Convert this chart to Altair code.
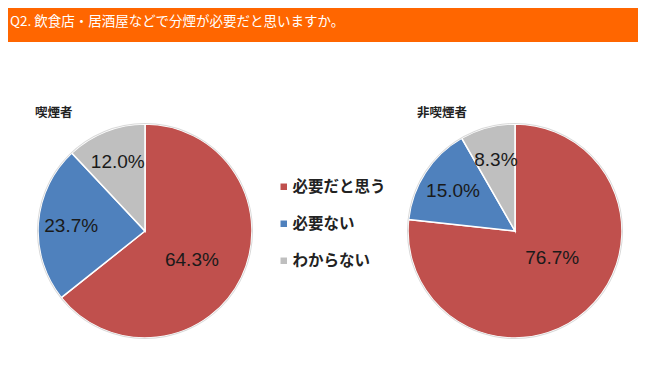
import altair as alt
import pandas as pd

title_text = "Q2. 飲食店・居酒屋などで分煙が必要だと思いますか。"
categories = ["必要だと思う", "必要ない", "わからない"]
groups = ["喫煙者", "非喫煙者"]
smokers = [64.3, 23.7, 12.0]
nonsmokers = [76.7, 15.0, 8.3]
colors = ["#C0504D", "#4F81BD", "#BFBFBF"]

rows = []
for g, vals in zip(groups, [smokers, nonsmokers]):
    for i, (c, v) in enumerate(zip(categories, vals)):
        rows.append({"group": g, "category": c, "value": v, "order": i,
                     "label": f"{v:.1f}%"})
df = pd.DataFrame(rows)

W, H = 630, 345
R = 107
centers = {"喫煙者": (137, 223), "非喫煙者": (507, 223)}
title_pos = {"喫煙者": (27, 105), "非喫煙者": (409, 105)}
big_label = {"喫煙者": (55, 0.1), "非喫煙者": (46, -0.21)}

theta_scale = alt.Scale(domain=[0, 100])
color_enc = alt.Color(
    "category:N",
    scale=alt.Scale(domain=categories, range=colors),
    legend=alt.Legend(
        orient="none", legendX=268, legendY=171, title=None,
        symbolType="square", symbolSize=42, symbolStrokeWidth=0,
        labelFontSize=15.5, labelFont="Noto Sans CJK JP",
        labelFontWeight="bold", labelColor="#222222",
        rowPadding=20, labelOffset=1,
    ),
)

layers = []

header = alt.Chart(pd.DataFrame({"t": [title_text]})).mark_rect(
    color="#FF6600"
).encode(x=alt.value(0), x2=alt.value(W), y=alt.value(0), y2=alt.value(34))
header_text = alt.Chart(pd.DataFrame({"t": [title_text]})).mark_text(
    align="left", baseline="middle", font="Noto Sans CJK JP",
    fontSize=13.5, color="white"
).encode(text="t:N", x=alt.value(2), y=alt.value(14))
layers += [header, header_text]

for g in groups:
    cx, cy = centers[g]
    base = (
        alt.Chart(df)
        .transform_filter(alt.datum.group == g)
        .transform_stack(stack="value", groupby=["group"], as_=["s0", "s1"],
                         sort=[alt.SortField("order", order="ascending")])
        .transform_calculate(mid="(datum.s0 + datum.s1) / 2")
    )
    arc = base.mark_arc(outerRadius=R, stroke="white", strokeWidth=1.5).encode(
        theta=alt.Theta("s0:Q", scale=theta_scale),
        theta2="s1:Q",
        color=color_enc,
        order=alt.Order("order:Q"),
        x=alt.value(cx), y=alt.value(cy),
    )
    rim = alt.Chart(pd.DataFrame({"t": [g]})).mark_arc(
        outerRadius=R + 1, innerRadius=R, theta=0, theta2=6.2832,
        color="#d9d9d9"
    ).encode(x=alt.value(cx), y=alt.value(cy))
    small = base.transform_filter(alt.datum.order > 0).mark_text(
        radius=74, font="Liberation Sans", fontSize=19, color="#1a1a1a"
    ).encode(
        theta=alt.Theta("mid:Q", scale=theta_scale),
        text="label:N", x=alt.value(cx), y=alt.value(cy),
    )
    br, bo = big_label[g]
    big = base.transform_filter(alt.datum.order == 0).mark_text(
        radius=br, thetaOffset=bo, font="Liberation Sans", fontSize=19,
        color="#1a1a1a"
    ).encode(
        theta=alt.Theta("mid:Q", scale=theta_scale),
        text="label:N", x=alt.value(cx), y=alt.value(cy),
    )
    tx, ty = title_pos[g]
    ttl = alt.Chart(pd.DataFrame({"t": [g]})).mark_text(
        align="left", baseline="middle", font="Noto Sans CJK JP",
        fontSize=12.5, fontWeight="bold", color="#222222"
    ).encode(text="t:N", x=alt.value(tx), y=alt.value(ty))
    layers += [arc, rim, small, big, ttl]

chart = alt.layer(*layers).properties(
    width=W, height=H, autosize=alt.AutoSizeParams(type="none"), padding=0
).configure_view(stroke=None)

chart.save("out.html", embed_options={"renderer": "svg", "actions": False})
